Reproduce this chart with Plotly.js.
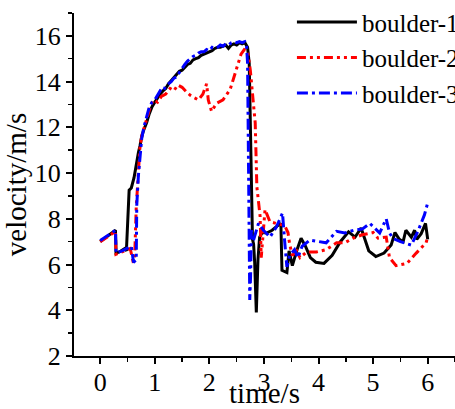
<!DOCTYPE html>
<html>
<head>
<meta charset="utf-8">
<script src="https://cdn.plot.ly/plotly-3.0.1.min.js"></script>
<style>html,body{margin:0;padding:0;background:#fff}#chart{width:455px;height:409px}</style>
</head>
<body>
<div id="chart"></div>
<script>
const seriesNames = ["boulder-1", "boulder-2", "boulder-3"];
const seriesColors = ["#000000", "#ff0000", "#0000ff"];

const t1 = [0,0.28,0.29,0.35,0.45,0.48,0.53,0.57,0.62,0.66,0.70,0.73,0.76,0.80,0.85,0.90,0.95,1.00,1.05,1.10,1.15,1.20,1.25,1.30,1.35,1.40,1.45,1.50,1.55,1.60,1.65,1.70,1.75,1.80,1.85,1.90,1.95,2.00,2.05,2.10,2.15,2.20,2.25,2.30,2.35,2.40,2.45,2.50,2.55,2.60,2.65,2.70,2.73,2.75,2.77,2.79,2.81,2.83,2.86,2.89,2.92,2.97,3.05,3.15,3.25,3.31,3.33,3.42,3.46,3.52,3.60,3.68,3.76,3.85,3.95,4.10,4.25,4.40,4.55,4.67,4.78,4.84,4.92,5.05,5.20,5.33,5.40,5.48,5.55,5.60,5.70,5.76,5.80,5.88,5.96,6.00];
const v1 = [7.0,7.5,6.5,6.55,6.7,6.6,9.25,9.35,9.8,10.4,10.9,11.2,11.6,11.9,12.2,12.6,12.9,13.1,13.3,13.45,13.6,13.7,13.9,14.05,14.2,14.3,14.45,14.5,14.65,14.75,14.8,14.95,15.0,15.05,15.15,15.2,15.25,15.3,15.35,15.45,15.5,15.5,15.55,15.6,15.45,15.6,15.65,15.6,15.7,15.65,15.7,15.5,14.8,12.0,9.0,7.1,6.9,6.1,3.9,6.2,7.2,7.4,7.38,7.5,7.7,7.8,5.75,5.65,6.6,5.95,6.6,7.15,6.8,6.3,6.1,6.05,6.4,7.0,7.43,7.2,7.6,7.2,6.6,6.35,6.5,6.85,7.4,7.1,7.0,7.5,7.2,7.5,7.1,7.35,7.8,7.1];

const t2 = [0,0.28,0.29,0.40,0.55,0.60,0.63,0.66,0.70,0.73,0.77,0.82,0.88,0.93,0.98,1.05,1.12,1.20,1.28,1.35,1.42,1.50,1.58,1.65,1.72,1.80,1.88,1.95,1.98,2.04,2.13,2.25,2.38,2.50,2.58,2.64,2.70,2.75,2.80,2.84,2.87,2.90,2.93,2.95,3.02,3.11,3.23,3.38,3.44,3.47,3.52,3.60,3.66,3.78,3.96,4.14,4.33,4.48,4.63,4.80,5.00,5.09,5.24,5.30,5.42,5.55,5.62,5.79,5.97,6.00];
const v2 = [7.0,7.45,6.45,6.55,6.7,6.15,6.2,8.5,10.2,11.2,11.7,12.1,12.5,13.0,13.2,13.1,13.35,13.45,13.7,13.6,13.85,13.75,13.55,13.4,13.3,13.2,13.45,13.9,13.2,12.7,13.05,13.2,13.65,14.6,15.2,15.4,15.35,14.5,13.2,12.2,9.4,8.7,8.1,6.3,8.4,7.87,7.8,7.7,7.4,6.9,6.4,6.6,6.3,6.55,6.55,6.65,6.95,6.95,7.15,7.3,7.4,7.15,7.2,6.3,5.95,6.0,6.05,6.5,6.95,7.2];

const t3 = [0,0.28,0.29,0.40,0.57,0.61,0.66,0.67,0.70,0.73,0.76,0.80,0.85,0.90,0.95,1.00,1.05,1.10,1.15,1.20,1.25,1.30,1.35,1.40,1.45,1.50,1.55,1.60,1.65,1.70,1.75,1.80,1.85,1.90,1.95,2.00,2.05,2.10,2.15,2.20,2.25,2.30,2.35,2.40,2.45,2.50,2.55,2.60,2.65,2.68,2.70,2.71,2.72,2.73,2.74,2.755,2.77,2.80,2.90,2.99,3.11,3.23,3.34,3.38,3.42,3.47,3.56,3.62,3.70,3.84,3.99,4.14,4.33,4.48,4.65,4.80,4.94,5.12,5.24,5.30,5.36,5.50,5.70,5.82,5.94,5.97,6.00];
const v3 = [7.05,7.5,6.5,6.6,6.8,6.1,6.2,8.6,9.9,10.9,11.5,12.0,12.5,12.9,13.1,13.2,13.4,13.6,13.55,13.8,13.9,14.0,14.15,14.2,14.4,14.6,14.75,14.9,15.0,15.1,15.15,15.25,15.3,15.3,15.4,15.35,15.5,15.45,15.5,15.6,15.55,15.65,15.6,15.7,15.75,15.7,15.75,15.7,15.75,15.6,14.8,11.9,9.0,6.5,4.45,5.5,7.5,7.0,7.8,7.5,7.2,7.65,8.25,7.0,5.9,6.4,6.65,6.3,6.8,7.07,7.0,6.95,7.45,7.38,7.5,7.55,7.8,7.38,8.0,7.38,7.15,7.0,6.85,7.45,8.17,8.5,8.7];

const xs = [t1, t2, t3];
const ys = [v1, v2, v3];
const dashes = ["solid", "9px,4px,3px,4px,3px,4px", "11px,4px,3px,4px"];

const data = seriesNames.map((n, i) => ({
  type: "scatter", mode: "lines", name: n, x: xs[i], y: ys[i],
  line: {color: seriesColors[i], width: 3, dash: dashes[i]}
}));

const fontFam = '"Liberation Serif", "Times New Roman", Times, serif';
const layout = {
  width: 455, height: 409,
  margin: {l: 74, r: 0, t: 13, b: 53, autoexpand: false},
  paper_bgcolor: "#fff", plot_bgcolor: "#fff",
  font: {family: fontFam, color: "#000", size: 25},
  showlegend: true,
  legend: {x: 0.572, y: 1.04, xanchor: "left", yanchor: "top", bgcolor: "rgba(0,0,0,0)",
           font: {family: fontFam, size: 25, color: "#000"}, itemwidth: 60, tracegroupgap: 0},
  xaxis: {
    range: [-0.48, 6.5], dtick: 1, tick0: 0, showgrid: false, zeroline: false,
    showline: true, linecolor: "#000", linewidth: 2, ticks: "outside", ticklen: 6, tickwidth: 2, tickcolor: "#000",
    minor: {dtick: 0.5, tick0: 0, ticks: "outside", ticklen: 4, tickwidth: 1.5, tickcolor: "#000", showgrid: false},
    tickfont: {family: fontFam, size: 26, color: "#000"}, ticklabelstandoff: -4,
    title: {text: "time/s", font: {family: fontFam, size: 29, color: "#000"}, standoff: 10}
  },
  yaxis: {
    range: [2, 17], dtick: 2, tick0: 0, showgrid: false, zeroline: false,
    showline: true, linecolor: "#000", linewidth: 2, ticks: "outside", ticklen: 6, tickwidth: 2, tickcolor: "#000",
    minor: {dtick: 1, tick0: 0, ticks: "outside", ticklen: 4, tickwidth: 1.5, tickcolor: "#000", showgrid: false},
    tickfont: {family: fontFam, size: 26, color: "#000"},
    title: {text: "velocity/m/s", font: {family: fontFam, size: 29, color: "#000"}, standoff: 4}
  }
};

Plotly.newPlot("chart", data, layout, {displayModeBar: false, staticPlot: true});
</script>
</body>
</html>
